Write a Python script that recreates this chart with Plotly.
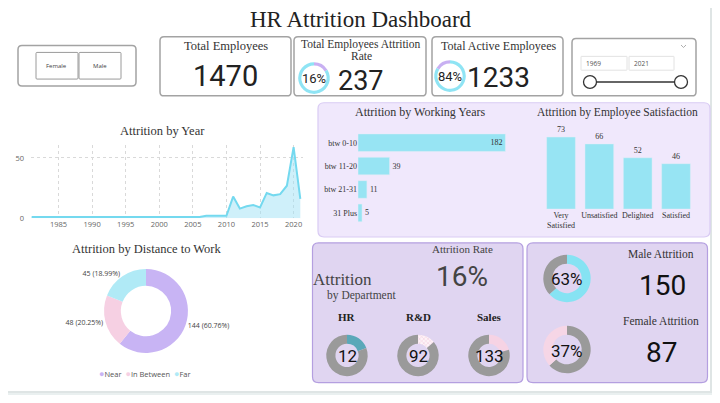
import plotly.graph_objects as go

# The page body adds an 8px margin on every side; size the figure so the page is exactly 720x403.
OFF = 8
W, H = 720 - 2 * OFF, 403 - 2 * OFF

# ---------------- data ----------------
years = [1981, 1982, 1983, 1984, 1985, 1986, 1987, 1988, 1989, 1990,
         1991, 1992, 1993, 1994, 1995, 1996, 1997, 1998, 1999, 2000,
         2001, 2002, 2003, 2004, 2005, 2006, 2007, 2008, 2009, 2010,
         2011, 2012, 2013, 2014, 2015, 2016, 2017, 2018, 2019, 2020, 2021]
attrition_by_year = [1, 1, 1, 1, 1, 1, 1, 1, 1, 1,
                     1, 1, 1, 1, 1, 1, 1, 1, 1, 1,
                     1, 1, 1, 1, 1, 1, 2, 2, 2, 2,
                     18, 8, 10, 11, 9, 21, 19, 20, 27, 59, 16]
year_ticks = [1985, 1990, 1995, 2000, 2005, 2010, 2015, 2020]

working_years = ["btw 0-10", "btw 11-20", "btw 21-31", "31 Plus"]
working_attrition = [182, 39, 11, 5]

satisfaction = ["Very<br>Satisfied", "Unsatisfied", "Delighted", "Satisfied"]
satisfaction_attrition = [73, 66, 52, 46]

distance = ["Near", "In Between", "Far"]
distance_attrition = [144, 48, 45]
distance_colors = ["#c8b4f4", "#f6d0e3", "#b0eaf6"]

kpi_total = 1470
kpi_attrition = 237
kpi_active = 1233
kpi_rate_pct = "16%"
kpi_active_pct = "84%"

departments = ["HR", "R&D", "Sales"]
dept_label_values = [12, 92, 133]
dept_left = [12, 133, 92]
dept_stayed = [51, 828, 354]

male_attrition = 150
female_attrition = 87
male_pct = "63%"
female_pct = "37%"

slider_years = ["1969", "2021"]
gender_buttons = ["Female", "Male"]

# ---------------- helpers ----------------
def X(x):
    return (x - OFF) / W


def Y(y):
    return 1 - (y - OFF) / H


def rrect(x0, y0, x1, y1, r, fill, line, lw=1.2):
    p = (f"M {X(x0 + r)},{Y(y0)} L {X(x1 - r)},{Y(y0)} Q {X(x1)},{Y(y0)} {X(x1)},{Y(y0 + r)} "
         f"L {X(x1)},{Y(y1 - r)} Q {X(x1)},{Y(y1)} {X(x1 - r)},{Y(y1)} "
         f"L {X(x0 + r)},{Y(y1)} Q {X(x0)},{Y(y1)} {X(x0)},{Y(y1 - r)} "
         f"L {X(x0)},{Y(y0 + r)} Q {X(x0)},{Y(y0)} {X(x0 + r)},{Y(y0)} Z")
    return dict(type="path", xref="paper", yref="paper", path=p, fillcolor=fill,
                line=dict(color=line, width=lw), layer="below")


SERIF = "Liberation Serif"
NUM = "Roboto"
SANS = "Open Sans"

annotations = []


def txt(x, y, s, size, family=SERIF, color="#333333", xanchor="center"):
    annotations.append(dict(x=X(x), y=Y(y), xref="paper", yref="paper", text=s,
                            showarrow=False, xanchor=xanchor, yanchor="middle",
                            font=dict(size=size, family=family, color=color)))


def dom(cx, cy, r):
    return dict(x=[X(cx - r), X(cx + r)], y=[Y(cy + r), Y(cy - r)])


fig = go.Figure()

# ---------------- line chart ----------------
fig.add_trace(go.Scatter(x=years, y=attrition_by_year, mode="lines",
                         line=dict(color="#74d9ef", width=2), fill="tozeroy",
                         fillcolor="rgba(160,226,245,0.5)", hoverinfo="skip",
                         showlegend=False, xaxis="x", yaxis="y"))

# ---------------- working years bars ----------------
fig.add_trace(go.Bar(y=working_years, x=working_attrition, orientation="h",
                     marker=dict(color="#97e4f3"), text=working_attrition,
                     textposition=["inside", "outside", "outside", "outside"],
                     insidetextanchor="end", cliponaxis=False,
                     textfont=dict(family=SERIF, size=8, color="#333333"),
                     showlegend=False, xaxis="x2", yaxis="y2"))

# ---------------- satisfaction bars ----------------
fig.add_trace(go.Bar(x=satisfaction, y=satisfaction_attrition,
                     marker=dict(color="#97e4f3"), text=satisfaction_attrition,
                     textposition="outside", cliponaxis=False,
                     textfont=dict(family=SERIF, size=8, color="#333333"),
                     showlegend=False, xaxis="x3", yaxis="y3"))

# ---------------- distance donut ----------------
fig.add_trace(go.Pie(labels=distance, values=distance_attrition, hole=0.6, sort=False,
                     direction="clockwise",
                     marker=dict(colors=distance_colors, line=dict(width=0)),
                     textposition="outside", texttemplate="%{value} (%{percent:.2%})",
                     textfont=dict(family=SANS, size=7, color="#444444"),
                     domain=dom(146, 315, 42.5), showlegend=False, hoverinfo="skip"))

# KPI donuts
fig.add_trace(go.Pie(values=[kpi_attrition, kpi_active], hole=0.8, sort=False,
                     direction="counterclockwise",
                     marker=dict(colors=["#c8b0f2", "#8fe4f4"], line=dict(width=0)),
                     textinfo="none", domain=dom(314, 79, 16), showlegend=False, hoverinfo="skip"))
fig.add_trace(go.Pie(values=[kpi_active, kpi_attrition], hole=0.8, sort=False,
                     direction="clockwise",
                     marker=dict(colors=["#8fe4f4", "#c8b0f2"], line=dict(width=0)),
                     textinfo="none", domain=dom(450, 77, 16), showlegend=False, hoverinfo="skip"))

# department donuts
dept_cx = [347, 418, 489]
dept_colors = ["#5aa8b9", "#f7dbe8", "#f6d3e4"]
for i in range(3):
    mk = dict(colors=[dept_colors[i], "#9a9a9a"], line=dict(width=0))
    if i == 1:
        mk["pattern"] = dict(shape=["x", ""], fgcolor="#f2c9dc", bgcolor=["#fdf3f7", "#9a9a9a"],
                             size=3, solidity=0.3)
    fig.add_trace(go.Pie(values=[dept_left[i], dept_stayed[i]], hole=0.56, sort=False,
                         direction="clockwise", marker=mk, textinfo="none",
                         domain=dom(dept_cx[i], 360, 21), showlegend=False, hoverinfo="skip"))

# gender donuts
fig.add_trace(go.Pie(values=[male_attrition, female_attrition], hole=0.62, sort=False,
                     direction="clockwise",
                     marker=dict(colors=["#86e3f3", "#9a9a9a"], line=dict(width=0)),
                     textinfo="none", domain=dom(567, 282, 24), showlegend=False, hoverinfo="skip"))
fig.add_trace(go.Pie(values=[male_attrition, female_attrition], hole=0.62, sort=False,
                     direction="clockwise",
                     marker=dict(colors=["#9a9a9a", "#f6d6e6"], line=dict(width=0)),
                     textinfo="none", domain=dom(567, 354, 24), showlegend=False, hoverinfo="skip"))

# ---------------- shapes ----------------
shapes = []
shapes.append(dict(type="rect", xref="paper", yref="paper", x0=X(8), x1=X(712), y0=Y(398), y1=Y(5),
                   fillcolor="#dfe5e5", line=dict(width=0), layer="below"))
shapes.append(dict(type="rect", xref="paper", yref="paper", x0=X(7), x1=X(710), y0=Y(396), y1=Y(4),
                   fillcolor="white", line=dict(width=0), layer="below"))
# slicer
shapes.append(rrect(18, 46, 136, 87, 4, "white", "#a3a3a3", 1.5))
shapes.append(rrect(36, 53, 78, 80, 1, "white", "#9a9a9a", 1))
shapes.append(rrect(79, 53, 121, 80, 1, "white", "#9a9a9a", 1))
# KPI cards
shapes.append(rrect(160, 37, 291, 97, 4, "white", "#a3a3a3", 1.5))
shapes.append(rrect(294, 37, 426, 97, 4, "white", "#a3a3a3", 1.5))
shapes.append(rrect(432, 37, 563, 97, 4, "white", "#a3a3a3", 1.5))
shapes.append(rrect(572, 39, 696, 97, 4, "white", "#a3a3a3", 1.5))
shapes.append(rrect(581, 57, 627, 71, 0.5, "white", "#e2e2e2", 1))
shapes.append(rrect(629, 57, 674, 71, 0.5, "white", "#e2e2e2", 1))
shapes.append(dict(type="line", xref="paper", yref="paper", x0=X(590), x1=X(681), y0=Y(83), y1=Y(83),
                   line=dict(color="#333333", width=1.5)))
for cx in (590, 681):
    shapes.append(dict(type="circle", xref="paper", yref="paper", x0=X(cx - 6.5), x1=X(cx + 6.5),
                       y0=Y(83 + 6.5), y1=Y(83 - 6.5), fillcolor="white",
                       line=dict(color="#333333", width=1.3)))
shapes.append(dict(type="path", xref="paper", yref="paper",
                   path=f"M {X(681)},{Y(45.5)} L {X(683.5)},{Y(48)} L {X(686)},{Y(45.5)}",
                   line=dict(color="#999999", width=0.8)))
# panels
shapes.append(rrect(318, 104, 710, 240, 6, "#f0e8fc", "#d9cbf3", 1.2))
shapes.append(rrect(312.5, 246, 523, 387.5, 6, "#e0d5f1", "#b49fe0", 1.2))
shapes.append(rrect(527, 246, 707.5, 387.5, 6, "#e0d5f1", "#b49fe0", 1.2))

# ---------------- texts ----------------
txt(361, 20, "HR Attrition Dashboard", 23, color="#222222")
txt(57, 66.5, gender_buttons[0], 6, SANS, "#444444")
txt(100, 66.5, gender_buttons[1], 6, SANS, "#444444")
txt(584, 64, slider_years[0], 6.5, SANS, "#555555", xanchor="left")
txt(632, 64, slider_years[1], 6.5, SANS, "#555555", xanchor="left")

txt(226, 46, "Total Employees", 12.5)
txt(226, 77, f"{kpi_total}", 29, NUM, "#222222")
txt(361, 45, "Total Employees Attrition", 11.5)
txt(361, 56.5, "Rate", 11.5)
txt(314, 79.5, kpi_rate_pct, 13, NUM, "#222222")
txt(361, 82, f"{kpi_attrition}", 27, NUM, "#222222")
txt(498, 46.5, "Total Active Employees", 12)
txt(450, 77.5, kpi_active_pct, 13, NUM, "#222222")
txt(498, 78, f"{kpi_active}", 28, NUM, "#222222")

txt(162, 133, "Attrition by Year", 12.5)
txt(420, 113.5, "Attrition by Working Years", 12)
txt(617, 113.5, "Attrition by Employee Satisfaction", 11.5)
txt(146, 252.5, "Attrition by Distance to Work", 12.5)

# legend for the distance donut (compact, circle markers)
legend_parts = [f"<span style='color:{c};font-size:9px'>●</span>{n}" for n, c in zip(distance, distance_colors)]
txt(145, 378, "  ".join(legend_parts), 7.5, SANS, "#555555")

txt(342, 283, "Attrition", 17, color="#444444")
txt(361, 299.5, "by Department", 11.5, color="#444444")
txt(462, 252, "Attrition Rate", 11, color="#444444")
txt(462, 280, kpi_rate_pct, 28, NUM, "#444444")
for i in range(3):
    txt(dept_cx[i], 321, f"<b>{departments[i]}</b>", 11, color="#222222")
    txt(dept_cx[i], 361, f"{dept_label_values[i]}", 17, NUM, "#111111")

txt(661, 257.5, "Male Attrition", 11.5, color="#333333")
txt(662, 289.5, f"{male_attrition}", 28, NUM, "#111111")
txt(661, 325, "Female Attrition", 11.5, color="#333333")
txt(661, 357.5, f"{female_attrition}", 28, NUM, "#111111")
txt(567, 283, male_pct, 17, NUM, "#111111")
txt(567, 355, female_pct, 17, NUM, "#111111")

# ---------------- layout ----------------
tickf = dict(family=SANS, size=7.5, color="#666666")
fig.update_layout(
    width=W, height=H, margin=dict(l=0, r=0, t=0, b=0),
    paper_bgcolor="#eaf0f0", plot_bgcolor="rgba(0,0,0,0)",
    bargap=0.25, shapes=shapes, annotations=annotations, showlegend=False,
    xaxis=dict(domain=[X(31), X(303)], range=[1980.9, 2021.4], tickvals=year_ticks,
               showgrid=True, griddash="dot", gridcolor="#d9d9d9", zeroline=False,
               showline=False, ticks="", tickfont=tickf, anchor="y", fixedrange=True),
    yaxis=dict(domain=[Y(221), Y(147)], range=[0, 60.6], tickvals=[0, 50],
               showgrid=True, griddash="dot", gridcolor="#d9d9d9", zeroline=False,
               showline=False, ticks="", tickfont=tickf, anchor="x", ticklabelstandoff=6),
    xaxis2=dict(domain=[X(358), X(520)], range=[0, 200], visible=False, anchor="y2"),
    yaxis2=dict(domain=[Y(227.4), Y(132.6)], type="category", categoryorder="array",
                categoryarray=working_years, autorange="reversed", showgrid=False,
                zeroline=False, ticks="", anchor="x2",
                tickfont=dict(family=SERIF, size=8, color="#333333")),
    xaxis3=dict(domain=[X(541.85), X(695.2)], type="category", showgrid=False, zeroline=False,
                ticks="", anchor="y3", tickfont=dict(family=SERIF, size=8, color="#333333")),
    yaxis3=dict(domain=[Y(211.7), Y(131.7)], range=[0, 80], visible=False, anchor="x3"),
)

fig.write_html("out.html")
